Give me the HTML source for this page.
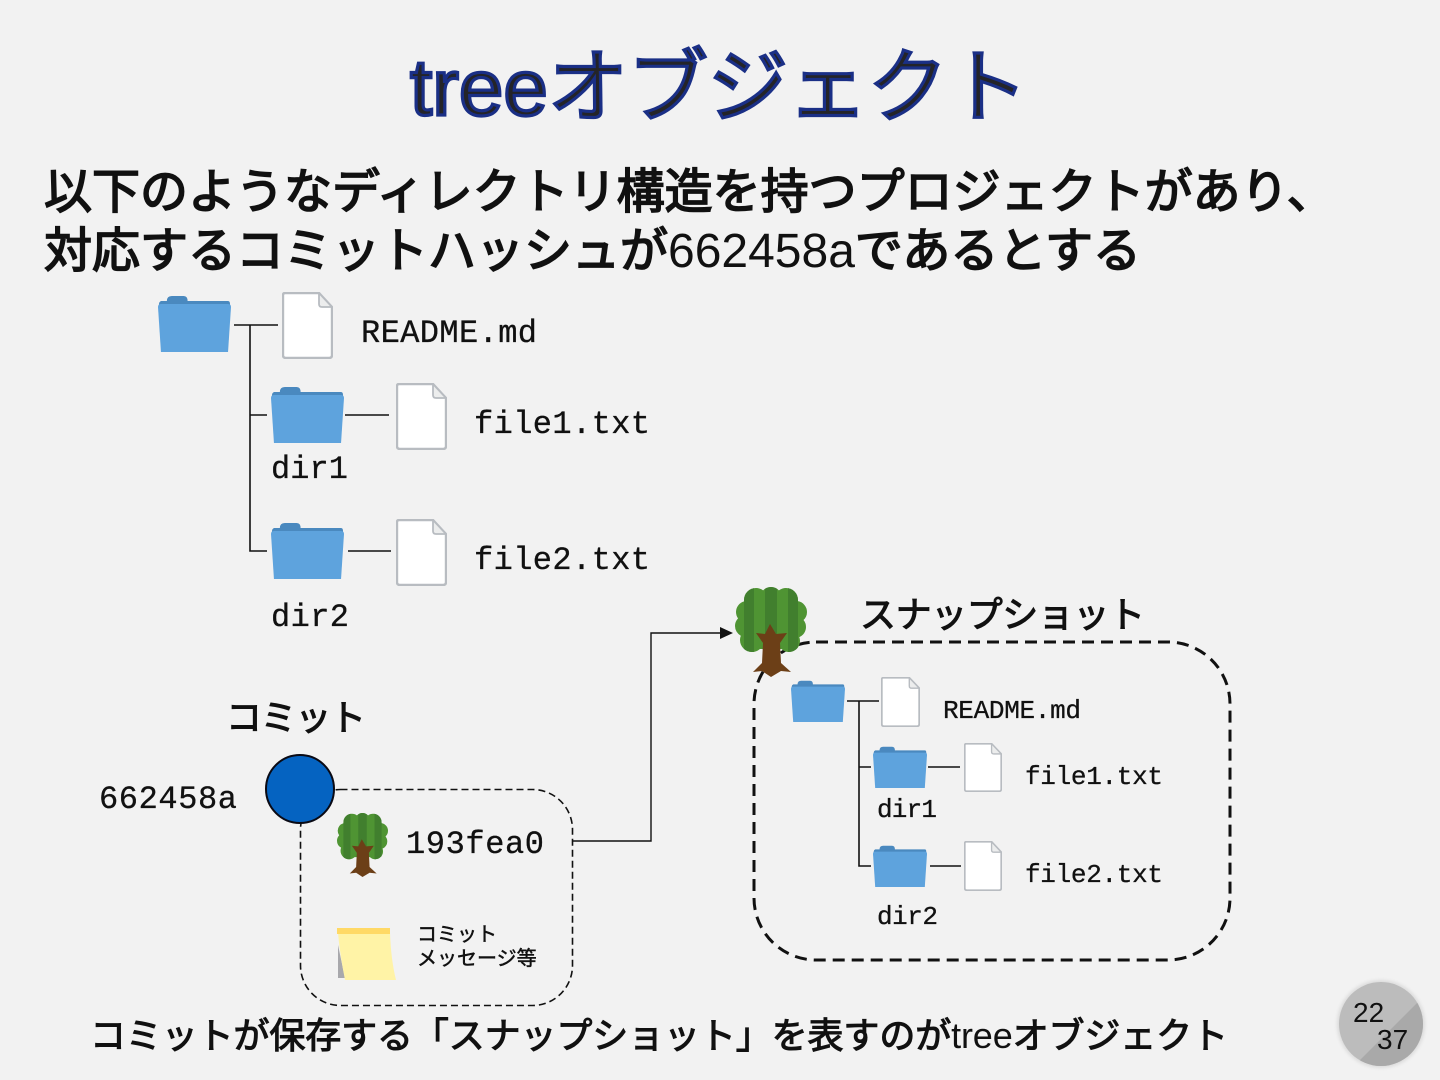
<!DOCTYPE html>
<html lang="ja"><head><meta charset="utf-8"><title>treeオブジェクト</title>
<style>
html,body{margin:0;padding:0;background:#f2f2f2}
svg{display:block}
.j{font-family:"Liberation Sans","Noto Sans CJK JP",sans-serif;font-weight:400;fill:#111;stroke:#111}
.n{stroke:none}
.s{font-family:"Liberation Sans","Noto Sans CJK JP",sans-serif;font-weight:400;fill:#111;stroke:#111;stroke-width:.5}
.m{font-family:"Liberation Mono",monospace;fill:#111;stroke:#111;stroke-width:.3}
.l{stroke:#111;stroke-width:1.6;fill:none}
</style></head><body>
<svg width="1440" height="1080" viewBox="0 0 1440 1080" xmlns="http://www.w3.org/2000/svg">
<defs>
<symbol id="folder" viewBox="0 0 74 57" preserveAspectRatio="none">
<path d="M9 6 Q9 1 14 1 H26 Q30 1 30 6 V10 H9Z" fill="#4a89bf"/>
<path d="M3 6 H71 Q73 6 73 9 V12 H1 V9 Q1 7 3 6Z" fill="#4a89bf"/>
<path d="M0 12 Q0 9 3 9 H71 Q74 9 74 12 L71 57 H3Z" fill="#5ea3dd"/>
</symbol>
<symbol id="doc" viewBox="0 0 51 67" preserveAspectRatio="none">
<path d="M3 1 H37 L50 15 V63 Q50 66 47 66 H4 Q1 66 1 63 V3 Q1 1 3 1Z" fill="#fff" stroke="#b8bcc1" stroke-width="2.400"/>
<path d="M37 1 V12 Q37 15 40 15 H50Z" fill="#eceded" stroke="#b8bcc1" stroke-width="1.800"/>
</symbol>
<clipPath id="cc">
<circle cx="21" cy="13" r="12"/><circle cx="36" cy="11" r="11"/><circle cx="51" cy="13" r="12"/>
<circle cx="12" cy="25" r="11"/><circle cx="61" cy="25" r="11"/><circle cx="11" cy="39" r="11"/><circle cx="60" cy="40" r="11"/>
<circle cx="17" cy="53" r="12"/><circle cx="36" cy="55" r="11"/><circle cx="54" cy="54" r="11"/><rect x="12" y="12" width="48" height="50"/>
</clipPath>
<symbol id="tree" viewBox="0 0 72 90" preserveAspectRatio="none">
<g clip-path="url(#cc)">
<rect width="72" height="70" fill="#4f9433"/>
<rect x="9" y="0" width="10" height="70" fill="#417f2e"/>
<rect x="30" y="0" width="12" height="70" fill="#417f2e"/>
<rect x="53" y="0" width="10" height="70" fill="#417f2e"/>
</g>
<path d="M35 37 L41 47 L52 46 L45 56 L46 76 L56 85 L46 84 L36 90 L27 84 L18 85 L27 76 L28 56 L21 46 L30 47Z" fill="#6c3f17"/>
</symbol>
<clipPath id="bc"><path d="M1470 950 L1320 1100 H1470Z"/></clipPath>
<filter id="glow" x="-20%" y="-20%" width="140%" height="140%"><feGaussianBlur stdDeviation="1.500"/></filter>
</defs>
<rect width="1440" height="1080" fill="#f2f2f2"/>

<!-- Title -->
<text x="410" y="115" font-size="80" font-family="Liberation Sans, Noto Sans CJK JP, sans-serif" font-weight="400" fill="#242428" stroke="#1a2f86" stroke-width="3.200">treeオブジェクト</text>

<!-- Heading -->
<text class="j" x="44" y="208" font-size="48" stroke-width="1.700">以下のようなディレクトリ構造を持つプロジェクトがあり、</text>
<text class="j" x="44" y="267" font-size="48" stroke-width="1.700">対応するコミットハッシュが<tspan class="n">662458a</tspan>であるとする</text>

<!-- Upper tree -->
<path class="l" d="M234 325H278M250 325V551H267M250 415H267M345 415H389M348 551H391"/>
<use href="#folder" x="158" y="295" width="73" height="57"/>
<use href="#doc" x="282" y="292" width="51" height="67"/>
<use href="#folder" x="271" y="386" width="73" height="57"/>
<use href="#doc" x="396" y="383" width="51" height="67"/>
<use href="#folder" x="271" y="522" width="73" height="57"/>
<use href="#doc" x="396" y="519" width="51" height="67"/>
<text class="m" x="361" y="342" font-size="32" textLength="176">README.md</text>
<text class="m" x="474" y="433" font-size="32" textLength="176">file1.txt</text>
<text class="m" x="271" y="478" font-size="32" textLength="77">dir1</text>
<text class="m" x="474" y="569" font-size="32" textLength="176">file2.txt</text>
<text class="m" x="271" y="626" font-size="32" textLength="78">dir2</text>

<!-- Snapshot -->
<rect x="754" y="642" width="476" height="318" rx="62" ry="62" fill="none" stroke="#111" stroke-width="3" stroke-dasharray="12 7"/>
<use href="#tree" x="735" y="587" width="72" height="90"/>
<text class="j" x="860" y="627" font-size="36" stroke-width="1.100" textLength="285">スナップショット</text>
<path class="l" d="M847 701H879M859 701V866H871M859 767H871M928 767H960M930 866H961"/>
<use href="#folder" x="791" y="680" width="54" height="42"/>
<use href="#doc" x="881" y="677" width="39" height="50"/>
<use href="#folder" x="873" y="746" width="54" height="42"/>
<use href="#doc" x="964" y="743" width="38" height="49"/>
<use href="#folder" x="873" y="845" width="54" height="42"/>
<use href="#doc" x="964" y="841" width="38" height="50"/>
<text class="m" x="943" y="718" font-size="26" textLength="138">README.md</text>
<text class="m" x="1025" y="784" font-size="26" textLength="138">file1.txt</text>
<text class="m" x="877" y="817" font-size="26" textLength="60">dir1</text>
<text class="m" x="1025" y="882" font-size="26" textLength="138">file2.txt</text>
<text class="m" x="877" y="924" font-size="26" textLength="61">dir2</text>

<!-- Commit -->
<text class="j" x="226" y="730" font-size="36" stroke-width="1.100" textLength="140">コミット</text>
<text class="m" x="99" y="808" font-size="32" textLength="138">662458a</text>
<rect x="300.500" y="789.500" width="272" height="216" rx="40" ry="40" fill="none" stroke="#111" stroke-width="1.600" stroke-dasharray="7 4"/>
<circle cx="300" cy="789" r="34" fill="#0563c1" stroke="#0a0a14" stroke-width="2"/>
<use href="#tree" x="337" y="813" width="51" height="64"/>
<text class="m" x="406" y="853" font-size="32" textLength="138">193fea0</text>
<path d="M338 945 L345 978 L338 978Z" fill="#a8a8ac"/>
<path d="M338 933 H390 Q391 960 396 980 H345 Q340 955 338 933Z" fill="#fff3a6"/>
<rect x="337" y="928" width="53" height="6" fill="#ffd966"/>
<text class="s" x="417" y="941" font-size="20">コミット</text>
<text class="s" x="417" y="965" font-size="20">メッセージ等</text>

<!-- Arrow -->
<path class="l" d="M572 841H651V633H722" style="stroke-width:1.400"/>
<path d="M720 627L733 633L720 639Z" fill="#111"/>

<!-- Bottom caption -->
<text class="j" x="90" y="1048" font-size="36" stroke-width="1.100" textLength="1138">コミットが保存する「スナップショット」を表すのが<tspan class="n">tree</tspan>オブジェクト</text>

<!-- Page badge -->
<circle cx="1381" cy="1024" r="44" fill="#dcdcdc" filter="url(#glow)"/>
<circle cx="1381" cy="1024" r="42" fill="#bcbcbc"/>
<circle cx="1381" cy="1024" r="42" fill="#a9a9a9" clip-path="url(#bc)"/>
<text x="1353" y="1022" font-size="28" font-family="Liberation Sans, sans-serif" fill="#111">22</text>
<text x="1377" y="1049" font-size="28" font-family="Liberation Sans, sans-serif" fill="#111">37</text>
</svg>
</body></html>
